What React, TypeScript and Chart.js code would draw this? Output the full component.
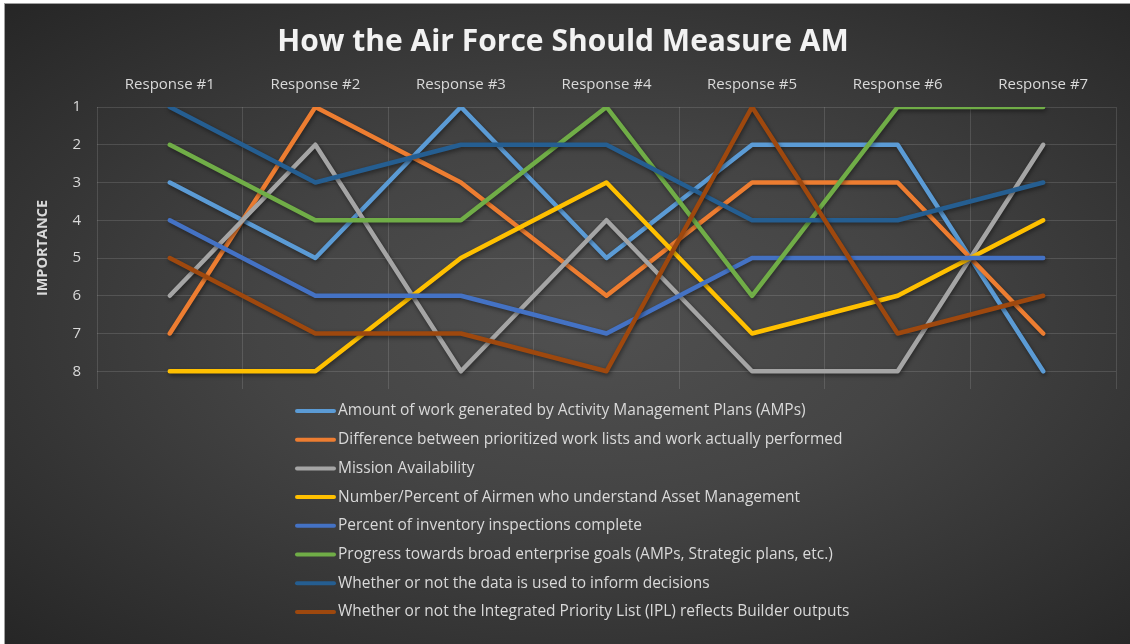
import React, { useEffect, useRef } from "react";
import { Chart, registerables } from "chart.js";

Chart.register(...registerables);

const chartTitle = "How the Air Force Should Measure AM";
const yAxisTitle = "IMPORTANCE";
const categories = ["Response #1", "Response #2", "Response #3", "Response #4", "Response #5", "Response #6", "Response #7"];
const yTickValues = [1, 2, 3, 4, 5, 6, 7, 8];

const seriesNames = [
  "Amount of work generated by Activity Management Plans (AMPs)",
  "Difference between prioritized work lists and work actually performed",
  "Mission Availability",
  "Number/Percent of Airmen who understand Asset Management",
  "Percent of inventory inspections complete",
  "Progress towards broad enterprise goals (AMPs, Strategic plans, etc.)",
  "Whether or not the data is used to inform decisions",
  "Whether or not the Integrated Priority List (IPL) reflects Builder outputs",
];
const seriesColors = ["#5B9BD5", "#ED7D31", "#A5A5A5", "#FFC000", "#4472C4", "#70AD47", "#255E91", "#9E480E"];

const amountOfWork = [3, 5, 1, 5, 2, 2, 8];
const differenceWork = [7, 1, 3, 6, 3, 3, 7];
const missionAvailability = [6, 2, 8, 4, 8, 8, 2];
const airmenUnderstand = [8, 8, 5, 3, 7, 6, 4];
const inventoryInspections = [4, 6, 6, 7, 5, 5, 5];
const enterpriseGoals = [2, 4, 4, 1, 6, 1, 1];
const dataInformsDecisions = [1, 3, 2, 2, 4, 4, 3];
const iplReflectsBuilder = [5, 7, 7, 8, 1, 7, 6];

const seriesValues = [
  amountOfWork,
  differenceWork,
  missionAvailability,
  airmenUnderstand,
  inventoryInspections,
  enterpriseGoals,
  dataInformsDecisions,
  iplReflectsBuilder,
];

const FONT = "'Open Sans', 'DejaVu Sans', sans-serif";
const TEXT_COLOR = "#d9d9d9";

const shadowPlugin = {
  id: "lineShadow",
  beforeDatasetsDraw(chart: any) {
    const ctx = chart.ctx;
    ctx.save();
    ctx.shadowColor = "rgba(0,0,0,0.45)";
    ctx.shadowBlur = 4;
    ctx.shadowOffsetX = 1;
    ctx.shadowOffsetY = 2;
  },
  afterDatasetsDraw(chart: any) {
    chart.ctx.restore();
  },
};

const legendPlugin = {
  id: "verticalLegend",
  afterDraw(chart: any) {
    const ctx = chart.ctx;
    const top = chart.chartArea.bottom + 22;
    const step = 28.7;
    const x0 = 297;
    ctx.save();
    chart.data.datasets.forEach((ds: any, i: number) => {
      const y = top + i * step;
      ctx.strokeStyle = ds.borderColor;
      ctx.lineWidth = 4;
      ctx.lineCap = "round";
      ctx.beginPath();
      ctx.moveTo(x0, y);
      ctx.lineTo(x0 + 37, y);
      ctx.stroke();
      ctx.fillStyle = TEXT_COLOR;
      ctx.font = `15.5px ${FONT}`;
      ctx.textBaseline = "middle";
      ctx.textAlign = "left";
      ctx.fillText(ds.label, x0 + 41, y);
    });
    ctx.restore();
  },
};

export default function App() {
  const canvasRef = useRef<HTMLCanvasElement | null>(null);

  useEffect(() => {
    if (!canvasRef.current) return;
    const chart = new Chart(canvasRef.current, {
      type: "line",
      data: {
        labels: categories,
        datasets: seriesNames.map((name, i) => ({
          label: name,
          data: seriesValues[i],
          borderColor: seriesColors[i],
          backgroundColor: seriesColors[i],
          borderWidth: 4.5,
          pointRadius: 0,
          pointHoverRadius: 0,
          tension: 0,
          fill: false,
          borderJoinStyle: "round" as const,
          borderCapStyle: "round" as const,
          order: seriesNames.length - i,
        })),
      },
      options: {
        animation: false,
        responsive: false,
        maintainAspectRatio: false,
        layout: { padding: { left: 10, right: 14, top: 0, bottom: 255 } },
        plugins: {
          legend: { display: false },
          tooltip: { enabled: false },
          title: {
            display: true,
            text: chartTitle,
            color: "#f2f2f2",
            font: { family: FONT, size: 30, weight: "bold" },
            padding: { top: 24, bottom: 2 },
          },
        },
        scales: {
          x: {
            position: "top",
            offset: true,
            grid: {
              display: true,
              offset: true,
              color: "rgba(255,255,255,0.13)",
              lineWidth: 1,
              drawTicks: false,
            },
            border: { display: false },
            ticks: {
              color: TEXT_COLOR,
              font: { family: FONT, size: 15 },
              padding: 13.5,
              maxRotation: 0,
            },
          },
          y: {
            reverse: true,
            min: 1,
            max: 8.47,
            afterBuildTicks: (scale: any) => {
              scale.ticks = yTickValues.map((v) => ({ value: v }));
            },
            afterFit: (scale: any) => {
              scale.width = 87;
            },
            grid: {
              color: "rgba(255,255,255,0.13)",
              lineWidth: 1,
              drawTicks: false,
            },
            border: { display: false },
            ticks: {
              color: TEXT_COLOR,
              font: { family: FONT, size: 15 },
              padding: 16,
            },
            title: {
              display: true,
              text: yAxisTitle,
              color: TEXT_COLOR,
              font: { family: FONT, size: 14.5, weight: "bold" },
              padding: { top: 24, bottom: 0 },
            },
          },
        },
      },
      plugins: [shadowPlugin, legendPlugin],
    });
    return () => chart.destroy();
  }, []);

  return (
    <div style={{ position: "absolute", left: 0, top: 0, width: 1130, height: 644, background: "#ffffff", overflow: "hidden" }}>
      <div
        style={{
          position: "absolute",
          left: 4,
          top: 3,
          width: 1126,
          height: 641,
          boxSizing: "border-box",
          borderTop: "1px solid #a0a0a0",
          borderLeft: "1px solid #a0a0a0",
          background: "radial-gradient(ellipse farthest-corner at 52% 50%, #505050 0%, #444444 40%, #262626 100%)",
        }}
      />
      <canvas ref={canvasRef} width={1130} height={644} style={{ position: "absolute", left: 0, top: 0, width: 1130, height: 644 }} />
    </div>
  );
}
